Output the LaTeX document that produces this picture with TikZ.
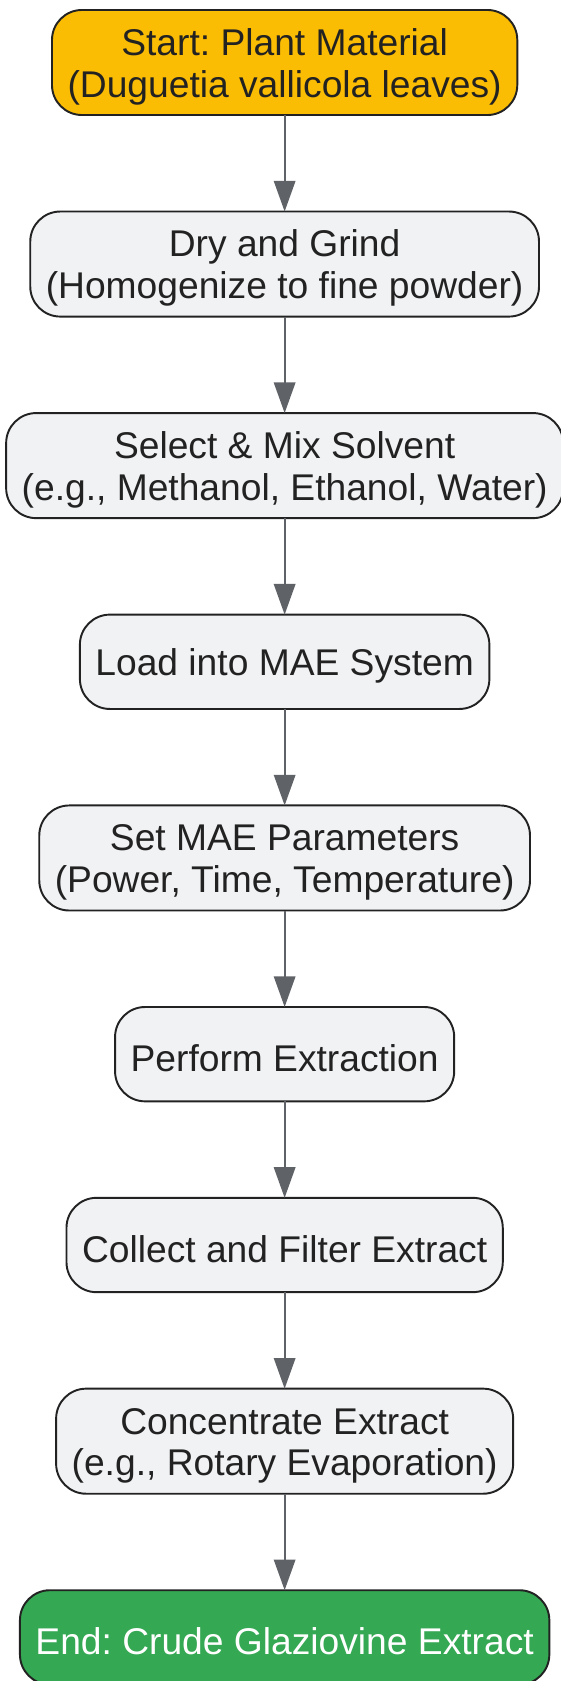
\documentclass[tikz,border=0pt]{standalone}
\usepackage{fontspec}
\setmainfont{Liberation Sans}
\usepackage{tikz}
\usepackage[dvipsnames]{xcolor}
\usetikzlibrary{positioning,arrows.meta}
\frenchspacing

\definecolor{boxfill}{HTML}{F1F2F4}
\definecolor{boxline}{HTML}{222222}
\definecolor{flowgray}{HTML}{5F6368}
\definecolor{startyellow}{HTML}{FBBC04}
\definecolor{endgreen}{HTML}{34A853}

\begin{document}
\begin{tikzpicture}[
  x=1pt, y=1pt,
  node distance=90pt,
  stepnode/.style={draw=boxline, line width=1.8pt, fill=boxfill, rounded corners=28pt,
    align=center, text=boxline, inner xsep=14.5pt, inner ysep=4pt, outer sep=0pt,
    minimum height=88pt, text height=33pt, font=\fontsize{34.7}{39}\selectfont},
  twoline/.style={minimum height=98pt, text height=72pt},
  ]
  \tikzset{%
    flow/.style={
      draw=flowgray,
      line width=1.9pt,
      -{Triangle[length=28.6pt,width=20pt]},
    },
  }
  \useasboundingbox (0,0) rectangle (523,-1568);
  %Nodes
  \node[stepnode,twoline,fill=startyellow](start) at (265.5,-58.3){Start: Plant Material\\(Duguetia vallicola leaves)};
  \node[stepnode,twoline](dry)[below=of start]{Dry and Grind\\(Homogenize to fine powder)};
  \node[stepnode,twoline](solvent)[below=of dry]{Select \& Mix Solvent\\(e.g., Methanol, Ethanol, Water)};
  \node[stepnode](load)[below=of solvent]{Load into MAE System};
  \node[stepnode,twoline](params)[below=of load]{Set MAE Parameters\\(Power, Time, Temperature)};
  \node[stepnode](perform)[below=of params]{Perform Extraction};
  \node[stepnode](collect)[below=of perform]{Collect and Filter Extract};
  \node[stepnode,twoline](concentrate)[below=of collect]{Concentrate Extract\\(e.g., Rotary Evaporation)};
  \node[stepnode,fill=endgreen,text=white](crude)[below=of concentrate]{End: Crude Glaziovine Extract};
  %Lines
  \draw
    (start) edge[flow] (dry)
    (dry) edge[flow] (solvent)
    (solvent) edge[flow] (load)
    (load) edge[flow] (params)
    (params) edge[flow] (perform)
    (perform) edge[flow] (collect)
    (collect) edge[flow] (concentrate)
    (concentrate) edge[flow] (crude)
    ;
\end{tikzpicture}
\end{document}
